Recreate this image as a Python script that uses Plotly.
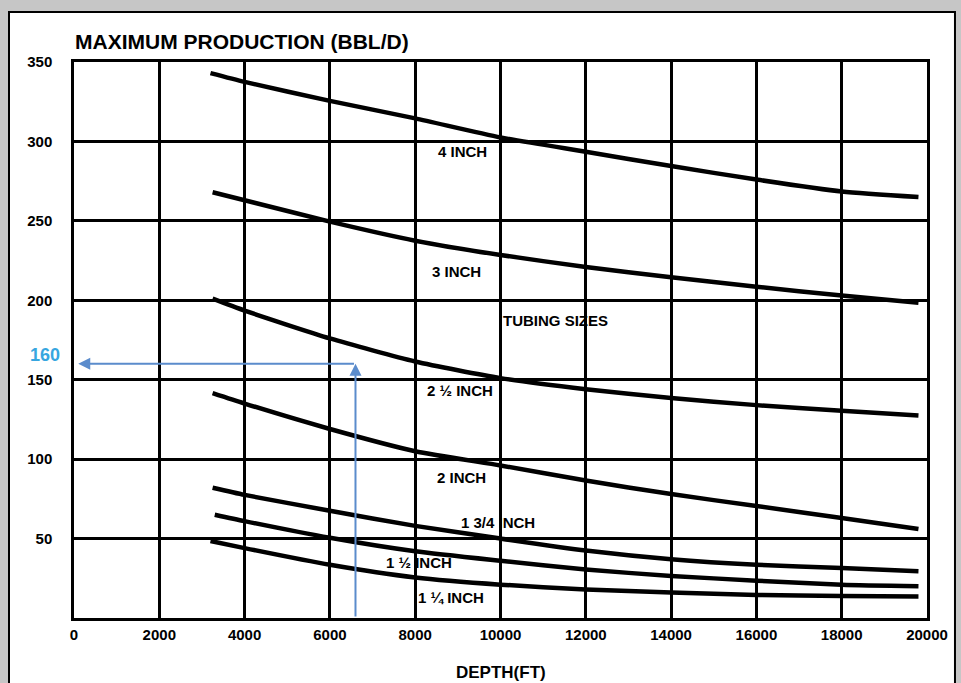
import plotly.graph_objects as go

# Maximum production versus depth for each tubing size
tubing_labels = ["4 INCH", "3 INCH", "2 ½ INCH", "2 INCH", "1 3/4 INCH", "1 ½ INCH", "1 ¼ INCH"]

depth_4in = [3200, 4000, 6000, 8000, 10000, 12000, 14000, 16000, 18000, 19800]
prod_4in = [343, 337.5, 325.5, 314.5, 302.5, 293.5, 284.5, 276, 268.5, 265]

depth_3in = [3250, 4000, 6000, 8000, 10000, 12000, 14000, 16000, 18000, 19800]
prod_3in = [268, 263, 249.5, 237.5, 228.5, 221, 214.5, 208.5, 203, 198.5]

depth_2_5in = [3250, 4000, 6000, 8000, 10000, 12000, 14000, 16000, 18000, 19800]
prod_2_5in = [201, 193.5, 176, 161.5, 151, 144, 138.5, 134, 130.5, 127.5]

depth_2in = [3250, 4000, 6000, 8000, 10000, 12000, 14000, 16000, 18000, 19800]
prod_2in = [141.5, 135, 119, 105, 96, 86.5, 78, 70.5, 63, 56]

depth_1_75in = [3250, 4000, 6000, 8000, 10000, 12000, 14000, 16000, 18000, 19800]
prod_1_75in = [82, 77.5, 67.5, 58, 50, 42.5, 37, 33.5, 31.5, 29.5]

depth_1_5in = [3300, 4000, 6000, 8000, 10000, 12000, 14000, 16000, 18000, 19800]
prod_1_5in = [65, 61, 50.5, 42, 36, 30.5, 26.5, 23.5, 21, 20]

depth_1_25in = [3200, 4000, 6000, 8000, 10000, 12000, 14000, 16000, 18000, 19800]
prod_1_25in = [48.5, 44, 33.5, 25.5, 21, 18, 16, 14.5, 13.8, 13.5]

# Where each curve is labelled (depth, production)
label_depth = [9100, 8970, 9060, 9080, 9930, 8080, 8850]
label_prod = [293.5, 218, 143.5, 88.5, 60, 35, 13]

# Example reading marked on the chart
example_depth = 6600
example_prod = 160

x_ticks = list(range(0, 20001, 2000))
y_ticks = list(range(50, 351, 50))

series = [
    (depth_4in, prod_4in), (depth_3in, prod_3in), (depth_2_5in, prod_2_5in),
    (depth_2in, prod_2in), (depth_1_75in, prod_1_75in), (depth_1_5in, prod_1_5in),
    (depth_1_25in, prod_1_25in),
]

FONT = "Liberation Sans, Arial, sans-serif"
BLUE = "#5b8ccc"

fig = go.Figure()
for (xs, ys), name in zip(series, tubing_labels):
    fig.add_trace(go.Scatter(
        x=xs, y=ys, mode="lines", name=name,
        line=dict(color="black", width=4.5, shape="spline", smoothing=0.6),
        showlegend=False, hoverinfo="skip",
    ))

annotations = []
for name, lx, ly in zip(tubing_labels, label_depth, label_prod):
    annotations.append(dict(
        x=lx, y=ly, xref="x", yref="y", text=name, showarrow=False,
        font=dict(family=FONT, size=15, color="black", weight="bold"),
        xanchor="center", yanchor="middle",
    ))

annotations.append(dict(
    x=11300, y=187, xref="x", yref="y", text="TUBING SIZES", showarrow=False,
    font=dict(family=FONT, size=15, color="black", weight="bold"),
))

# Title and axis caption
annotations.append(dict(
    x=-0.001, y=1.036, xref="paper", yref="paper",
    text="MAXIMUM PRODUCTION (BBL/D)", showarrow=False,
    font=dict(family=FONT, size=21, color="black", weight="bold"),
    xanchor="left", yanchor="middle",
))
annotations.append(dict(
    x=0.5, y=-0.098, xref="paper", yref="paper", text="DEPTH(FT)", showarrow=False,
    font=dict(family=FONT, size=17, color="black", weight="bold"),
    xanchor="center", yanchor="middle",
))

# Reading arrows: up from the depth axis, then across to the production axis
annotations.append(dict(
    x=example_depth, y=example_prod, ax=example_depth, ay=0,
    xref="x", yref="y", axref="x", ayref="y", text="", showarrow=True,
    arrowhead=2, arrowsize=1.2, arrowwidth=2, arrowcolor=BLUE,
))
annotations.append(dict(
    x=100, y=example_prod, ax=example_depth, ay=example_prod,
    xref="x", yref="y", axref="x", ayref="y", text="", showarrow=True,
    arrowhead=2, arrowsize=1.2, arrowwidth=2, arrowcolor=BLUE,
))
annotations.append(dict(
    x=-0.034, y=example_prod, xref="paper", yref="y", text=str(example_prod),
    showarrow=False, xanchor="center", yanchor="middle", yshift=9,
    font=dict(family=FONT, size=18, color="#37a6e0", weight="bold"),
))

fig.update_layout(
    width=961, height=683,
    margin=dict(l=74, r=34, t=62, b=65),
    paper_bgcolor="#c6c6c6",
    plot_bgcolor="rgba(0,0,0,0)",
    annotations=annotations,
    shapes=[dict(
        type="rect", xref="paper", yref="paper",
        x0=-0.0762, x1=1.0328, y0=-0.2, y1=1.0899,
        fillcolor="white", line=dict(color="black", width=2), layer="below",
    )],
    xaxis=dict(
        range=[0, 20000], tickvals=x_ticks, ticktext=[str(v) for v in x_ticks],
        showgrid=True, gridcolor="black", gridwidth=2.5,
        showline=True, linecolor="black", linewidth=2.5, mirror=True,
        zeroline=False, ticks="", ticklabelstandoff=1,
        tickfont=dict(family=FONT, size=15, color="black", weight="bold"),
    ),
    yaxis=dict(
        range=[0, 350], tickvals=y_ticks, ticktext=[str(v) for v in y_ticks],
        showgrid=True, gridcolor="black", gridwidth=2.5,
        showline=True, linecolor="black", linewidth=2.5, mirror=True,
        zeroline=False, ticks="", ticklabelstandoff=16,
        tickfont=dict(family=FONT, size=15, color="black", weight="bold"),
    ),
)

fig.write_html("out.html")
